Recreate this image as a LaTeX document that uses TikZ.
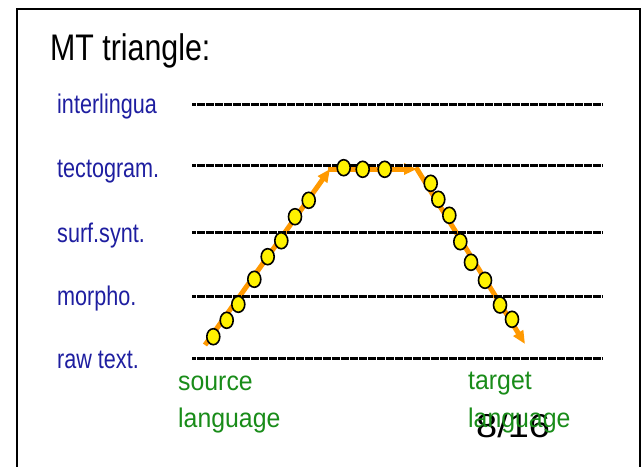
\documentclass[tikz,border=0pt]{standalone}
\usepackage{fontspec}
\setmainfont{Liberation Sans}
\newfontfamily\titlefont[FakeStretch=0.82]{Liberation Sans}
\newfontfamily\labfont[FakeStretch=0.8]{Liberation Sans}
\newfontfamily\greenfont[FakeStretch=0.92]{Liberation Sans}
\newfontfamily\pagefont[FakeStretch=1.15]{Liberation Sans}
\usetikzlibrary{shapes.geometric,arrows.meta}
\definecolor{lvlblue}{RGB}{30,30,160}
\definecolor{lggreen}{RGB}{25,140,25}
\definecolor{arrorange}{RGB}{255,153,0}
\tikzset{
  lvl/.style={anchor=base west,inner sep=0pt,text=lvlblue,font=\labfont\fontsize{27}{30}\selectfont},
  lang/.style={anchor=base west,inner sep=0pt,text=lggreen,font=\greenfont\fontsize{27}{30}\selectfont},
  level line/.style={line width=3pt,dash pattern=on 4pt off 0.5pt},
  flow/.style={arrorange,line width=5pt,-{Triangle[length=13pt,width=11pt]}},
  dot/.style={ellipse,draw=black,line width=1.6pt,fill=yellow,minimum width=13pt,minimum height=16pt,inner sep=0pt}
}
\begin{document}
\begin{tikzpicture}[x=1pt,y=-1pt]
\useasboundingbox (0,0) rectangle (644,466);
\clip (0,0) rectangle (644,466);
% frame
\draw[line width=2pt] (17,480) -- (17,9) -- (640,9) -- (640,480);
% title
\node[anchor=base west,inner sep=0pt,font=\titlefont\fontsize{37}{40}\selectfont] (title) at (50,60) {MT triangle:};
% level labels
\node[lvl] (l5) at (57,113) {interlingua};
\node[lvl] (l4) at (57,177) {tectogram.};
\node[lvl] (l3) at (57,242) {surf.synt.};
\node[lvl] (l2) at (57,305) {morpho.};
\node[lvl] (l1) at (57,368) {raw text.};
% level line ends
\coordinate (a5) at (192,104); \coordinate (b5) at (602,104);
\coordinate (a4) at (192,165); \coordinate (b4) at (602,165);
\coordinate (a3) at (192,232); \coordinate (b3) at (602,232);
\coordinate (a2) at (192,296); \coordinate (b2) at (602,296);
\coordinate (a1) at (192,358); \coordinate (b1) at (602,358);
% orange path
\coordinate (s) at (205,345);
\coordinate (p) at (330,169);
\coordinate (q) at (417,169);
\coordinate (e) at (525,344);
\draw[flow] (s) -- (p);
\draw[flow,shorten <=-2pt] (p) -- (q);
\draw[flow,shorten <=-2pt] (q) -- (e);
% level lines
\foreach \i in {1,...,5} \draw[level line] (a\i) -- (b\i);
% dots
\node[dot] (d1) at (213.3,336.7) {};
\node[dot] (d2) at (226.7,320.3) {};
\node[dot] (d3) at (238.3,304.3) {};
\node[dot] (d4) at (254.3,279.3) {};
\node[dot] (d5) at (267.7,256.7) {};
\node[dot] (d6) at (281.3,240.7) {};
\node[dot] (d7) at (295,216.7) {};
\node[dot] (d8) at (308.7,200.3) {};
\node[dot] (d9) at (343.7,167.7) {};
\node[dot] (d10) at (362.7,169.3) {};
\node[dot] (d11) at (384.7,169.3) {};
\node[dot] (d12) at (430.7,183.3) {};
\node[dot] (d13) at (438.3,199.3) {};
\node[dot] (d14) at (449.3,215.3) {};
\node[dot] (d15) at (460.3,241.7) {};
\node[dot] (d16) at (471,262.3) {};
\node[dot] (d17) at (485,280.3) {};
\node[dot] (d18) at (500,305) {};
\node[dot] (d19) at (512,319.3) {};
% page number
\node[anchor=base west,inner sep=0pt,font=\pagefont\fontsize{33}{36}\selectfont] (page) at (476,437) {8/16};
% languages
\node[lang] (src1) at (178,390) {source};
\node[lang] (src2) at (178,427) {language};
\node[lang] (tgt1) at (468,389) {target};
\node[lang] (tgt2) at (468,427) {language};
\end{tikzpicture}
\end{document}
